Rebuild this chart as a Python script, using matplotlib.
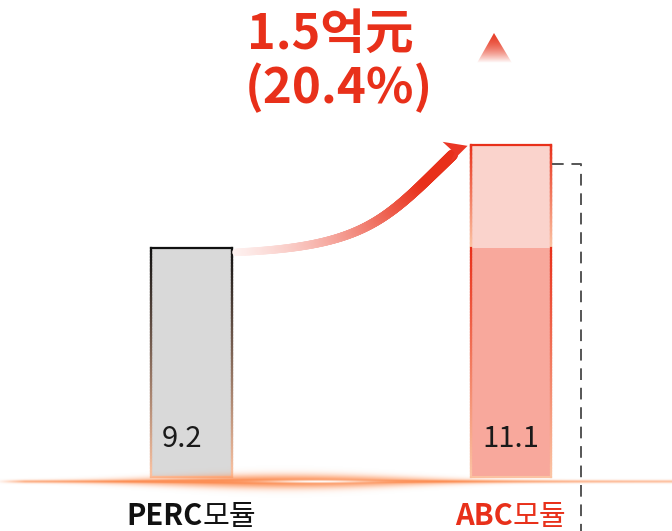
import numpy as np
import matplotlib
matplotlib.use('Agg')
import matplotlib.pyplot as plt
from matplotlib.collections import LineCollection
from matplotlib.patches import Polygon
from matplotlib.colors import to_rgb

plt.rcParams['font.family'] = ['Noto Sans CJK KR', 'DejaVu Sans']

# data
categories = ['PERC모듈', 'ABC모듈']
values = [9.2, 11.1]
value_labels = ['9.2', '11.1']
gain_text = '1.5억元'
gain_pct_text = '(20.4%)'

RED = '#E8301A'
EDGE_LOW = '#FBC3A3'
W, H = 672, 531


def grad_line(axis, p0, p1, c0, c1, lw, n=80, zorder=3):
    """Straight line whose colour fades from c0 to c1."""
    xs = np.linspace(p0[0], p1[0], n)
    ys = np.linspace(p0[1], p1[1], n)
    pts = np.column_stack([xs, ys]).reshape(-1, 1, 2)
    segs = np.concatenate([pts[:-1], pts[1:]], axis=1)
    t = np.linspace(0, 1, n - 1)[:, None]
    cols = (1 - t) * np.array(to_rgb(c0)) + t * np.array(to_rgb(c1))
    axis.add_collection(LineCollection(segs, colors=cols, linewidths=lw,
                                       capstyle='projecting', zorder=zorder))


fig = plt.figure(figsize=(W / 100, H / 100), dpi=100)
ax = fig.add_axes([0, 0, 1, 1])
ax.set_xlim(-0.5994, 1.5039)
ax.set_ylim(4.008, 13.76)
ax.axis('off')

base = 5.0
x = np.arange(len(categories))
w = 0.253

# bars
ax.bar(x[0], values[0] - base, bottom=base, width=w, color='#D9D9D9', zorder=2)
ax.bar(x[1], values[0] - base, bottom=base, width=w, color='#F8A89C', zorder=2)
ax.bar(x[1], values[1] - values[0], bottom=values[0], width=w, color='#FAD3CC', zorder=2)

# bar outlines with fading colour
l0, r0 = x[0] - w / 2, x[0] + w / 2
l1, r1 = x[1] - w / 2, x[1] + w / 2
ax.plot([l0, r0], [values[0], values[0]], color='#111111', lw=1.6, zorder=3,
        solid_capstyle='projecting')
for xe in (l0, r0):
    grad_line(ax, (xe, values[0]), (xe, base), '#111111', EDGE_LOW, 1.6)
ax.plot([l0, r0], [base, base], color=EDGE_LOW, lw=1.6, zorder=3)

ax.plot([l1, r1], [values[1], values[1]], color=RED, lw=1.6, zorder=3,
        solid_capstyle='projecting')
for xe in (l1, r1):
    grad_line(ax, (xe, values[1]), (xe, values[0]), RED, EDGE_LOW, 1.6)
    grad_line(ax, (xe, values[0]), (xe, base), RED, EDGE_LOW, 1.6)
ax.plot([l1, r1], [base, base], color=EDGE_LOW, lw=1.6, zorder=3)

# value labels inside bars
label_dx = [-7, 0]
for i, txt in enumerate(value_labels):
    ax.annotate(txt, xy=(x[i], base), xytext=(label_dx[i], 21.5),
                textcoords='offset points', ha='center', va='baseline',
                fontsize=21, fontweight='light', color='#1a1a1a', zorder=4)

# category labels: latin part heavier than the hangul part
renderer = fig.canvas.get_renderer()
cat_colors = ['#111111', RED]
for i, txt in enumerate(categories):
    cut = next(k for k, ch in enumerate(txt) if ord(ch) > 127)
    head_t = ax.annotate(txt[:cut], xy=(x[i], base), xytext=(0, -34.5),
                         textcoords='offset points', ha='right', va='baseline',
                         fontsize=21, fontweight='bold', color=cat_colors[i])
    tail_t = ax.annotate(txt[cut:], xy=(x[i], base), xytext=(0, -34.5),
                         textcoords='offset points', ha='left', va='baseline',
                         fontsize=21, fontweight='normal', color=cat_colors[i])
    wh = head_t.get_window_extent(renderer).width
    wt = tail_t.get_window_extent(renderer).width
    shift = (wh - wt) / 2 * 0.72
    head_t.set_position((shift, -34.5))
    tail_t.set_position((shift, -34.5))

# decoration layer in pixel units
deco = fig.add_axes([0, 0, 1, 1], zorder=5)
deco.set_xlim(0, W)
deco.set_ylim(H, 0)
deco.axis('off')
deco.patch.set_alpha(0)


def to_px(xd, yd):
    dx, dy = ax.transData.transform((xd, yd))
    return dx, H - dy


# glowing baseline
gx = np.arange(W) + 0.5
gy = np.linspace(462, 502, 81)
X, Y = np.meshgrid(gx, gy)
_, yc = to_px(0, base)
yc += 4.5
line_a = 0.55 * np.exp(-((Y - yc) / 1.5) ** 2) * np.clip(X / 25, 0, 1)
prof = np.exp(-((X - 285) / 190) ** 2)
thick = 1.0 + 6.0 * prof
glow_a = 1.0 * prof * np.exp(-((Y - yc) / thick) ** 2)
alpha = np.clip(line_a + glow_a, 0, 1)
core = np.exp(-((X - 318) / 50) ** 2 - ((Y - yc) / 1.4) ** 2)
orange = np.array(to_rgb('#FC8F55'))
rgb = orange[None, None, :] * (1 - core[..., None]) + core[..., None]
glow = np.dstack([rgb, alpha])
deco.imshow(glow, extent=[0, W, 502, 462], aspect='auto', interpolation='bilinear',
            zorder=1)

# dashed bracket from the ABC bar
bx, _ = to_px(r1, values[1])
deco.plot([bx + 1, 581, 581], [164, 164, H], color='#555555', lw=1.4,
          dashes=(6, 4), zorder=2)

# curved arrow between bar tops
sx, sy = to_px(r0, values[0])
ex, ey = to_px(l1, values[1])
P0 = np.array([sx + 4, sy + 4])
P1 = np.array([sx + 135, sy - 2])
P2 = np.array([ex - 85, ey + 75])
P3 = np.array([ex - 18, ey + 10])
t = np.linspace(0, 1, 300)[:, None]
curve = ((1 - t) ** 3) * P0 + 3 * ((1 - t) ** 2) * t * P1 + 3 * (1 - t) * t ** 2 * P2 + t ** 3 * P3
pts = curve.reshape(-1, 1, 2)
segs = np.concatenate([pts[:-1], pts[1:]], axis=1)
s = np.linspace(0, 1, len(segs))[:, None]
mix = np.clip(0.06 + 1.1 * s, 0, 1)
cols = (1 - mix) * np.ones(3) + mix * np.array(to_rgb(RED))
widths = (7.5 + 3.5 * s[:, 0]) * 0.72
deco.add_collection(LineCollection(segs, colors=cols, linewidths=widths,
                                   capstyle='round', zorder=3))
head = Polygon([[ex - 3, ey + 1], [ex - 28, ey - 3], [ex - 16, ey + 8],
                [ex - 21, ey + 19]], closed=True, color='#EA3624', lw=0, zorder=4)
deco.add_patch(head)

# gradient triangle
tri = Polygon([[494, 33], [477, 63], [512, 63]], closed=True, facecolor='none',
              edgecolor='none')
deco.add_patch(tri)
grad = np.linspace(0, 1, 60)[:, None]
ta = np.clip(1.0 - grad ** 1.8, 0, 1)
tri_rgb = np.array(to_rgb('#E8402A'))
tri_img = np.dstack([np.full((60, 10), c) for c in tri_rgb] + [np.repeat(ta, 10, axis=1)])
im = deco.imshow(tri_img, extent=[477, 512, 63, 33], aspect='auto', zorder=4)
im.set_clip_path(tri)

# headline
deco.text(247, 49, gain_text, fontsize=35, fontweight='bold', color=RED,
          ha='left', va='baseline')
deco.text(245, 103, gain_pct_text, fontsize=35.5, fontweight='bold', color=RED,
          ha='left', va='baseline')

fig.savefig('out.png', dpi=100)
